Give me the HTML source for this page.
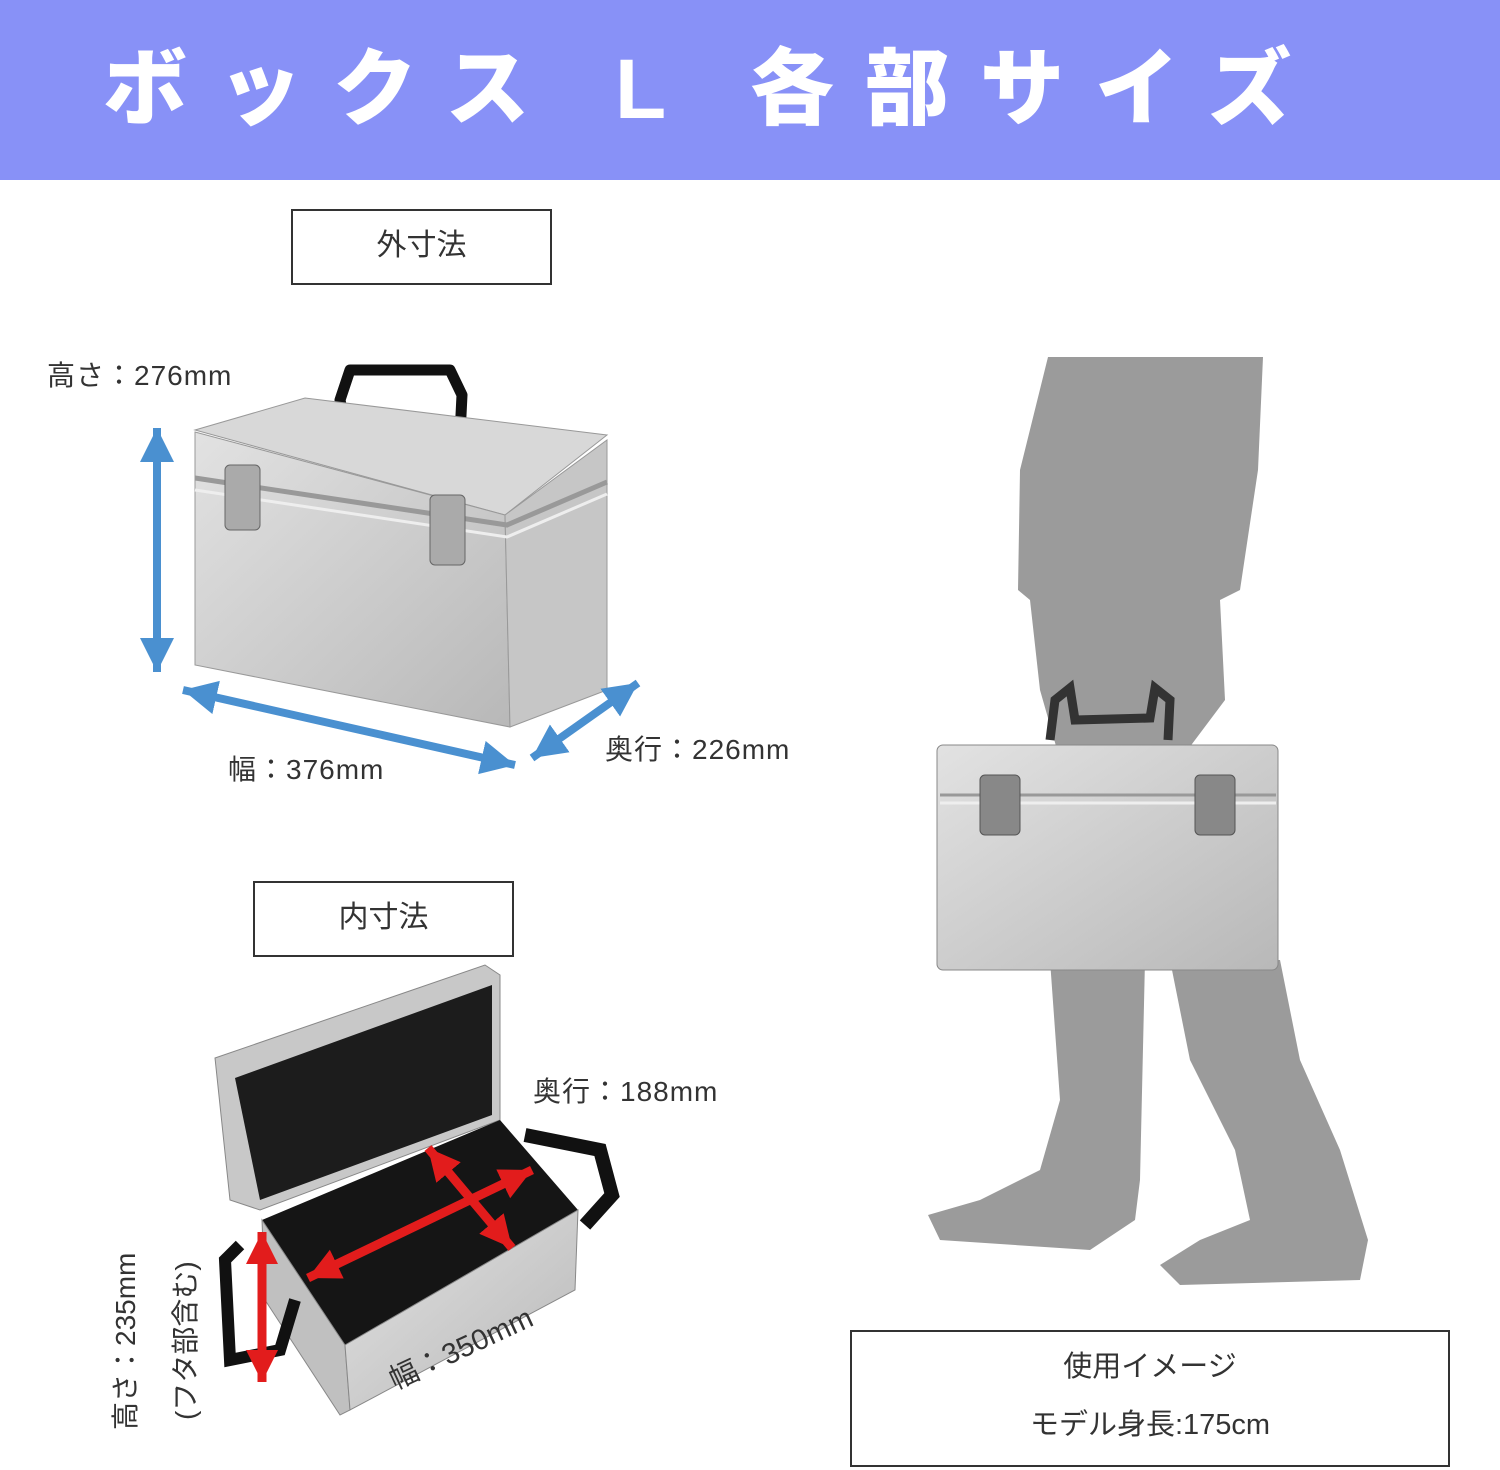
<!DOCTYPE html>
<html><head><meta charset="utf-8"><style>
html,body{margin:0;padding:0;background:#fff;}
#w{position:relative;width:1500px;height:1470px;overflow:hidden;font-family:"Liberation Sans","Noto Sans CJK JP",sans-serif;}
.hd{position:absolute;left:0;top:0;width:1500px;height:180px;background:#8891f7;}
.hd span{position:absolute;left:103px;top:22px;color:#fff;font-weight:900;font-size:84px;letter-spacing:31px;white-space:nowrap;}
.bx{position:absolute;border:2px solid #333;box-sizing:border-box;text-align:center;font-size:30px;color:#333;}
.t{position:absolute;font-size:28px;color:#333;white-space:nowrap;letter-spacing:1px;}
svg{position:absolute;left:0;top:0;}
</style></head><body><div id="w">
<div class="hd"><span>ボックス L 各部サイズ</span></div>
<svg width="1500" height="1470">
<defs>
<linearGradient id="al" x1="0" y1="0" x2="1" y2="1"><stop offset="0" stop-color="#e2e2e2"/><stop offset="1" stop-color="#b8b8b8"/></linearGradient>
<marker id="ab" markerUnits="userSpaceOnUse" markerWidth="40" markerHeight="40" refX="34" refY="17" orient="auto-start-reverse"><path d="M0,0L34,17L0,34z" fill="#4a90d0"/></marker>
<marker id="ar" markerUnits="userSpaceOnUse" markerWidth="40" markerHeight="40" refX="32" refY="16" orient="auto-start-reverse"><path d="M0,0L32,16L0,32z" fill="#e21c1c"/></marker>
</defs>
<g fill="#9b9b9b">
<path d="M1048,357L1263,357L1258,470L1240,590L1220,600L1225,700L1180,760L1060,760L1040,690L1030,600L1018,590L1020,470Z"/>
<path d="M1050,960L1145,960L1140,1180L1135,1220L1090,1250L940,1240L928,1215L980,1200L1040,1170L1060,1100Z"/>
<path d="M1170,960L1280,960L1300,1060L1340,1150L1368,1240L1360,1280L1180,1285L1160,1265L1200,1240L1250,1220L1235,1150L1190,1060Z"/>
</g>
<path d="M1050,740L1055,700L1070,688L1075,720L1150,718L1155,688L1170,700L1168,740" fill="none" stroke="#333" stroke-width="9"/>
<rect x="937" y="745" width="341" height="225" rx="6" fill="url(#al)" stroke="#888"/>
<line x1="940" y1="795" x2="1276" y2="795" stroke="#999" stroke-width="3"/>
<line x1="940" y1="803" x2="1276" y2="803" stroke="#eee" stroke-width="3"/>
<rect x="980" y="775" width="40" height="60" rx="5" fill="#888" stroke="#555"/>
<rect x="1195" y="775" width="40" height="60" rx="5" fill="#888" stroke="#555"/>
<path d="M345,425L340,400L350,370L450,370L462,395L460,435" fill="none" stroke="#111" stroke-width="11" stroke-linejoin="round"/>
<path d="M195,430L305,398L607,435L505,515Z" fill="#d8d8d8" stroke="#999"/>
<path d="M195,432L505,515L510,727L195,665Z" fill="url(#al)" stroke="#999"/>
<path d="M505,515L607,440L607,690L510,727Z" fill="#c6c6c6" stroke="#999"/>
<path d="M195,478L507,525L607,482" fill="none" stroke="#999" stroke-width="5"/>
<path d="M195,490L507,537L607,494" fill="none" stroke="#eee" stroke-width="3"/>
<rect x="225" y="465" width="35" height="65" rx="5" fill="#aaa" stroke="#666"/>
<rect x="430" y="495" width="35" height="70" rx="5" fill="#aaa" stroke="#666"/>
<g stroke="#4a90d0" stroke-width="8">
<line x1="157" y1="428" x2="157" y2="672" marker-start="url(#ab)" marker-end="url(#ab)"/>
<line x1="183" y1="690" x2="515" y2="765" marker-start="url(#ab)" marker-end="url(#ab)"/>
<line x1="532" y1="758" x2="638" y2="683" marker-start="url(#ab)" marker-end="url(#ab)"/>
</g>
<path d="M215,1058L485,965L500,975L500,1120L260,1210L230,1200Z" fill="#c8c8c8" stroke="#888"/>
<path d="M235,1078L492,985L492,1115L260,1200Z" fill="#1c1c1c"/>
<path d="M525,1135L600,1150L612,1195L585,1225" fill="none" stroke="#111" stroke-width="14"/>
<path d="M262,1220L500,1120L578,1210L345,1345Z" fill="#151515"/>
<path d="M262,1220L345,1345L350,1410L340,1415L265,1300Z" fill="#c0c0c0" stroke="#888"/>
<path d="M345,1345L578,1210L575,1290L350,1410Z" fill="url(#al)" stroke="#888"/>
<path d="M240,1245L225,1260L230,1360L280,1350L295,1300" fill="none" stroke="#111" stroke-width="12"/>
<g stroke="#e21c1c" stroke-width="9">
<line x1="262" y1="1232" x2="262" y2="1382" marker-start="url(#ar)" marker-end="url(#ar)"/>
<line x1="308" y1="1278" x2="532" y2="1170" marker-start="url(#ar)" marker-end="url(#ar)"/>
<line x1="428" y1="1148" x2="512" y2="1248" marker-start="url(#ar)" marker-end="url(#ar)"/>
</g>
<text x="135" y="1430" transform="rotate(-90 135 1430)" font-size="28" fill="#333" font-family="Liberation Sans,Noto Sans CJK JP,sans-serif">高さ：235mm</text>
<text x="195" y="1420" transform="rotate(-90 195 1420)" font-size="28" fill="#333" font-family="Liberation Sans,Noto Sans CJK JP,sans-serif">(フタ部含む)</text>
<text x="395" y="1390" transform="rotate(-25 395 1390)" font-size="29" fill="#333" font-family="Liberation Sans,Noto Sans CJK JP,sans-serif">幅：350mm</text>
</svg>
<div class="bx" style="left:291px;top:209px;width:261px;height:76px;line-height:70px;">外寸法</div>
<div class="bx" style="left:253px;top:881px;width:261px;height:76px;line-height:70px;">内寸法</div>
<div class="bx" style="left:850px;top:1330px;width:600px;height:137px;font-size:29px;line-height:58px;padding-top:6px;">使用イメージ<br>モデル身長:175cm</div>
<div class="t" style="left:47px;top:354px;">高さ：276mm</div>
<div class="t" style="left:228px;top:748px;">幅：376mm</div>
<div class="t" style="left:605px;top:728px;">奥行：226mm</div>
<div class="t" style="left:533px;top:1070px;">奥行：188mm</div>
</div></body></html>
